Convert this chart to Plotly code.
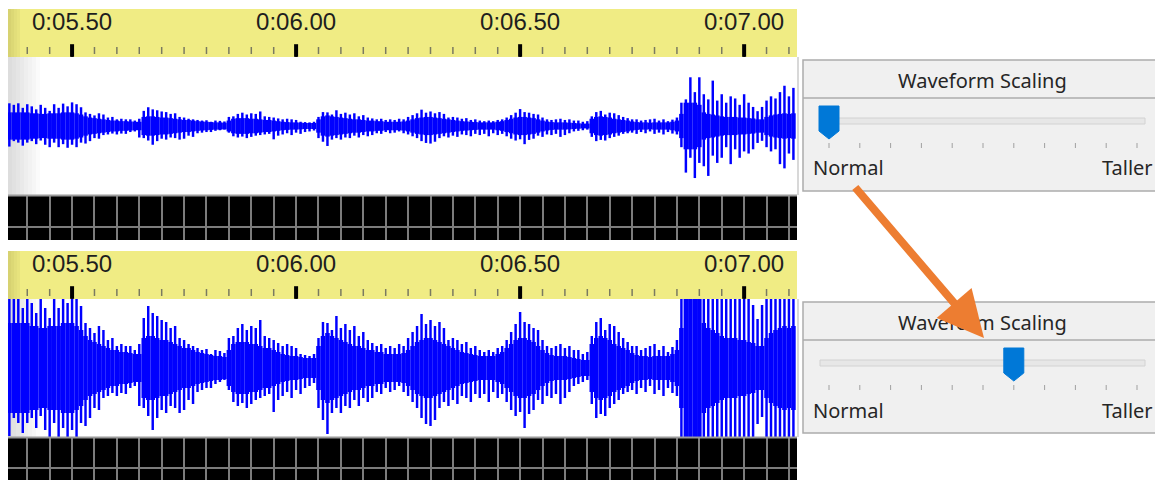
import plotly.graph_objects as go

W, H = 1163, 480
PAGE_OFFSET = 8  # the page body margin shifts the figure by 8 px

# waveform: one sample every 10 ms starting at 0:05.36
# amplitudes in pixels of the "Taller" view (half height of the view = 69)
t_start = 5.36
t_step = 0.01
core = [
    45, 45, 45, 45, 45, 42, 42, 40, 40, 42,
    42, 42, 45, 45, 45, 42, 38, 32, 28, 26,
    24, 22, 20, 18, 18, 16, 16, 15, 14, 14,
    30, 32, 32, 30, 28, 28, 26, 24, 22, 20,
    20, 18, 16, 15, 14, 13, 12, 12, 11, 18,
    24, 26, 26, 26, 24, 24, 22, 20, 20, 18,
    16, 14, 13, 12, 12, 11, 10, 10, 10, 22,
    32, 35, 32, 30, 28, 26, 24, 22, 22, 20,
    18, 18, 16, 16, 14, 14, 14, 14, 15, 18,
    22, 26, 28, 30, 30, 28, 26, 24, 22, 20,
    18, 16, 15, 14, 13, 12, 12, 12, 12, 14,
    16, 20, 24, 28, 30, 30, 28, 26, 22, 18,
    15, 13, 12, 12, 12, 11, 10, 9, 8, 8,
    24, 30, 32, 30, 28, 24, 22, 20, 18, 15,
    13, 12, 12, 11, 12, 12, 12, 12, 14, 18,
    40, 77, 77, 77, 70, 45, 40, 38, 35, 32,
    30, 30, 30, 28, 28, 26, 25, 22, 22, 30,
    35, 38, 40, 42, 40, 42,
]
peak_up = [
    75, 70, 75, 60, 72, 65, 55, 70, 60, 50,
    72, 60, 74, 65, 78, 72, 62, 45, 40, 35,
    42, 38, 28, 30, 22, 24, 22, 22, 18, 24,
    50, 62, 55, 52, 48, 46, 40, 42, 30, 28,
    24, 22, 20, 18, 19, 14, 18, 17, 15, 30,
    32, 40, 44, 38, 42, 40, 48, 32, 30, 28,
    25, 22, 24, 22, 20, 14, 13, 12, 14, 30,
    46, 45, 38, 52, 40, 44, 38, 42, 32, 36,
    28, 25, 22, 24, 20, 22, 20, 24, 22, 30,
    36, 42, 54, 44, 48, 42, 46, 40, 28, 30,
    28, 24, 26, 20, 22, 18, 16, 18, 16, 20,
    22, 28, 36, 44, 56, 46, 44, 40, 38, 28,
    22, 20, 22, 24, 20, 22, 18, 18, 14, 16,
    32, 46, 50, 38, 44, 42, 36, 30, 26, 22,
    22, 18, 20, 22, 24, 18, 22, 16, 21, 28,
    77, 88, 161, 112, 161, 105, 88, 150, 84, 105,
    77, 98, 91, 70, 105, 77, 63, 49, 63, 84,
    98, 91, 112, 133, 98, 126,
]
peak_down = [
    68, 50, 55, 65, 55, 50, 60, 48, 62, 70,
    55, 70, 60, 72, 62, 70, 55, 58, 50, 40,
    42, 30, 28, 25, 28, 25, 26, 20, 18, 38,
    40, 48, 62, 50, 42, 45, 38, 40, 45, 42,
    32, 36, 24, 22, 20, 20, 16, 14, 12, 22,
    34, 38, 35, 40, 36, 32, 30, 28, 26, 44,
    32, 28, 24, 30, 22, 26, 20, 18, 15, 40,
    52, 66, 45, 40, 45, 38, 40, 32, 38, 30,
    34, 30, 24, 26, 20, 24, 22, 18, 24, 28,
    34, 40, 50, 56, 58, 52, 40, 34, 38, 32,
    36, 28, 30, 34, 26, 30, 26, 34, 24, 30,
    26, 34, 42, 48, 44, 60, 46, 42, 32, 36,
    28, 30, 26, 36, 30, 24, 18, 16, 14, 12,
    36, 50, 46, 48, 40, 36, 32, 26, 24, 22,
    26, 20, 24, 18, 26, 22, 28, 20, 25, 28,
    70, 154, 105, 172, 122, 133, 165, 98, 122, 105,
    70, 126, 77, 105, 84, 91, 77, 56, 49, 70,
    84, 77, 126, 140, 91, 112,
]
times = [round(t_start + i * t_step, 2) for i in range(len(core))]

# timeline
x_range = [5.357, 7.118]
major_times = [5.5, 6.0, 6.5, 7.0]
major_labels = ["0:05.50", "0:06.00", "0:06.50", "0:07.00"]
minor_step = 0.05
minor_times = [round(5.40 + i * minor_step, 2) for i in range(35)]
minor_times = [t for t in minor_times if t not in major_times]

# slider settings (0 = Normal ... 10 = Taller) and the view half-range each gives
slider_values = [0, 6]
half_ranges = [228, 69]

BLUE = "#0000ff"
YELLOW = "#f0ec84"


def px(x):
    return (x - PAGE_OFFSET) / W


def py(y):
    return 1 - (y - PAGE_OFFSET) / H


fig = go.Figure()

panels = [
    dict(head=(9, 57), wave=(57, 195), strip=(196, 240), hline=13),
    dict(head=(251, 299), wave=(299, 437), strip=(438, 480), hline=12),
]

layout_axes = {}
shapes = []
ax_i = 0
for p, panel in enumerate(panels):
    ids = [ax_i + 1, ax_i + 2, ax_i + 3]
    ax_i += 3
    h_id, w_id, s_id = ["" if i == 1 else str(i) for i in ids]

    xdom = [px(8), px(797)]
    # header axes
    layout_axes["xaxis" + h_id] = dict(domain=xdom, range=x_range, visible=False, anchor="y" + h_id)
    layout_axes["yaxis" + h_id] = dict(domain=[py(panel["head"][1]), py(panel["head"][0])], range=[0, 48],
                                        visible=False, anchor="x" + h_id)
    # waveform axes
    hr = half_ranges[p]
    layout_axes["xaxis" + w_id] = dict(domain=xdom, range=x_range, visible=False, anchor="y" + w_id)
    layout_axes["yaxis" + w_id] = dict(domain=[py(panel["wave"][1]), py(panel["wave"][0])], range=[-hr, hr],
                                        visible=False, anchor="x" + w_id)
    # black grid strip
    layout_axes["xaxis" + s_id] = dict(domain=xdom, range=x_range, anchor="y" + s_id, showgrid=True,
                                        gridcolor="#7c7c7c", gridwidth=2, dtick=minor_step, tick0=5.5,
                                        showticklabels=False, ticks="", zeroline=False, showline=False)
    sh = panel["strip"][1] - panel["strip"][0]
    layout_axes["yaxis" + s_id] = dict(domain=[py(panel["strip"][1]), py(panel["strip"][0])], range=[0, sh],
                                        anchor="x" + s_id, showgrid=True, gridcolor="#7c7c7c", gridwidth=2,
                                        tickvals=[panel["hline"]], showticklabels=False, ticks="",
                                        zeroline=False, showline=False)

    # backgrounds
    shapes.append(dict(type="rect", xref="paper", yref="paper", layer="below",
                       x0=px(8), x1=px(797), y0=py(panel["head"][1]), y1=py(panel["head"][0]),
                       fillcolor=YELLOW, line_width=0))
    for k in range(4):
        shapes.append(dict(type="rect", xref="paper", yref="paper", layer="below",
                           x0=px(8 + 3 * k), x1=px(11 + 3 * k), y0=py(panel["head"][1]), y1=py(panel["head"][0]),
                           fillcolor="#b8b45a", opacity=0.45 - 0.1 * k, line_width=0))
    for k in range(8):
        shapes.append(dict(type="rect", xref="paper", yref="paper", layer="below",
                           x0=px(8 + 4 * k), x1=px(12 + 4 * k), y0=py(panel["wave"][1]), y1=py(panel["wave"][0]),
                           fillcolor="#d4d4d4", opacity=0.8 - 0.1 * k, line_width=0))
    shapes.append(dict(type="rect", xref="paper", yref="paper", layer="below",
                       x0=px(8), x1=px(797), y0=py(panel["strip"][1]), y1=py(panel["strip"][0]),
                       fillcolor="black", line_width=0))
    shapes.append(dict(type="line", xref="paper", yref="paper",
                       x0=px(8), x1=px(797), y0=py(panel["strip"][0] - 0.5), y1=py(panel["strip"][0] - 0.5),
                       line=dict(color="#9a9a9a", width=2)))
    shapes.append(dict(type="line", xref="paper", yref="paper",
                       x0=px(798), x1=px(798), y0=py(panel["wave"][1]), y1=py(panel["wave"][0]),
                       line=dict(color="#d8d8d8", width=2)))

    # header ticks and labels
    fig.add_trace(go.Scatter(x=minor_times, y=[6.5] * len(minor_times), xaxis="x" + h_id, yaxis="y" + h_id,
                             mode="markers", marker=dict(symbol="line-ns", size=5,
                                                         line=dict(color="#7a7a60", width=1.5)),
                             hoverinfo="skip", showlegend=False))
    fig.add_trace(go.Scatter(x=major_times, y=[6.5] * len(major_times), xaxis="x" + h_id, yaxis="y" + h_id,
                             mode="markers", marker=dict(symbol="line-ns", size=9,
                                                         line=dict(color="black", width=4)),
                             hoverinfo="skip", showlegend=False))
    fig.add_trace(go.Scatter(x=major_times, y=[1] * len(major_times), xaxis="x" + h_id, yaxis="y" + h_id,
                             mode="markers", marker=dict(symbol="line-ns", size=4,
                                                         line=dict(color="black", width=1.5)),
                             hoverinfo="skip", showlegend=False))
    fig.add_trace(go.Scatter(x=major_times, y=[33.5] * len(major_times), xaxis="x" + h_id, yaxis="y" + h_id,
                             mode="text", text=major_labels,
                             textfont=dict(family="Liberation Sans, Arial", size=24, color="#1e1e1e"),
                             hoverinfo="skip", showlegend=False))

    # waveform
    fig.add_trace(go.Bar(x=times, y=[2 * c for c in core], base=[-c for c in core],
                         xaxis="x" + w_id, yaxis="y" + w_id, width=t_step * 1.02,
                         marker=dict(color=BLUE, line_width=0), hoverinfo="skip", showlegend=False))
    fig.add_trace(go.Bar(x=times, y=[u + d for u, d in zip(peak_up, peak_down)], base=[-d for d in peak_down],
                         xaxis="x" + w_id, yaxis="y" + w_id, width=t_step * 0.55,
                         marker=dict(color=BLUE, line_width=0), hoverinfo="skip", showlegend=False))
    # invisible point so the strip axes get drawn
    fig.add_trace(go.Scatter(x=[x_range[0]], y=[0], xaxis="x" + s_id, yaxis="y" + s_id, mode="markers",
                             marker=dict(opacity=0), hoverinfo="skip", showlegend=False))

# slider widgets
annotations = []
widget_tops = [60, 302]
n_ticks = 11
tick_x0, tick_gap = 829, 30.8
for top, value in zip(widget_tops, slider_values):
    shapes.append(dict(type="rect", xref="paper", yref="paper", x0=px(803), x1=px(1161),
                       y0=py(top + 131), y1=py(top), fillcolor="#f0f0f0", line=dict(color="#acacac", width=1.5)))
    shapes.append(dict(type="line", xref="paper", yref="paper", x0=px(803), x1=px(1161),
                       y0=py(top + 38), y1=py(top + 38), line=dict(color="#acacac", width=1.5)))
    shapes.append(dict(type="rect", xref="paper", yref="paper", x0=px(820), x1=px(1145),
                       y0=py(top + 64), y1=py(top + 58), fillcolor="#e7e7e7", line=dict(color="#d2d2d2", width=1)))
    for i in range(n_ticks):
        tx = tick_x0 + i * tick_gap
        shapes.append(dict(type="line", xref="paper", yref="paper", x0=px(tx), x1=px(tx),
                           y0=py(top + 88), y1=py(top + 83), line=dict(color="#a0a0a0", width=1)))
    cx = tick_x0 + value * tick_gap
    path = "M {a},{b} L {c},{b} L {c},{d} L {e},{f} L {a},{d} Z".format(
        a=px(cx - 10), b=py(top + 46), c=px(cx + 10), d=py(top + 71), e=px(cx), f=py(top + 79))
    shapes.append(dict(type="path", xref="paper", yref="paper", path=path,
                       fillcolor="#0078d7", line=dict(color="#0078d7", width=1)))
    font = dict(family="Noto Sans", size=20, color="#262626")
    annotations.append(dict(text="Waveform Scaling", xref="paper", yref="paper", x=px(982), y=py(top + 20),
                            showarrow=False, xanchor="center", yanchor="middle", font=font))
    annotations.append(dict(text="Normal", xref="paper", yref="paper", x=px(811), y=py(top + 108),
                            showarrow=False, xanchor="left", yanchor="middle", font=font))
    annotations.append(dict(text="Taller", xref="paper", yref="paper", x=px(1155), y=py(top + 108),
                            showarrow=False, xanchor="right", yanchor="middle", font=font))

# orange arrow from the first slider to the second
annotations.append(dict(x=px(984), y=py(338), xref="paper", yref="paper", ax=-130, ay=-152,
                        axref="pixel", ayref="pixel", text="", showarrow=True, arrowhead=2,
                        arrowsize=1.15, arrowwidth=8, arrowcolor="#ed7d31"))

fig.update_layout(
    width=W, height=H,
    margin=dict(l=0, r=0, t=0, b=0),
    paper_bgcolor="white",
    plot_bgcolor="rgba(0,0,0,0)",
    barmode="overlay",
    showlegend=False,
    shapes=shapes,
    annotations=annotations,
    **layout_axes,
)

fig.write_html("out.html")
